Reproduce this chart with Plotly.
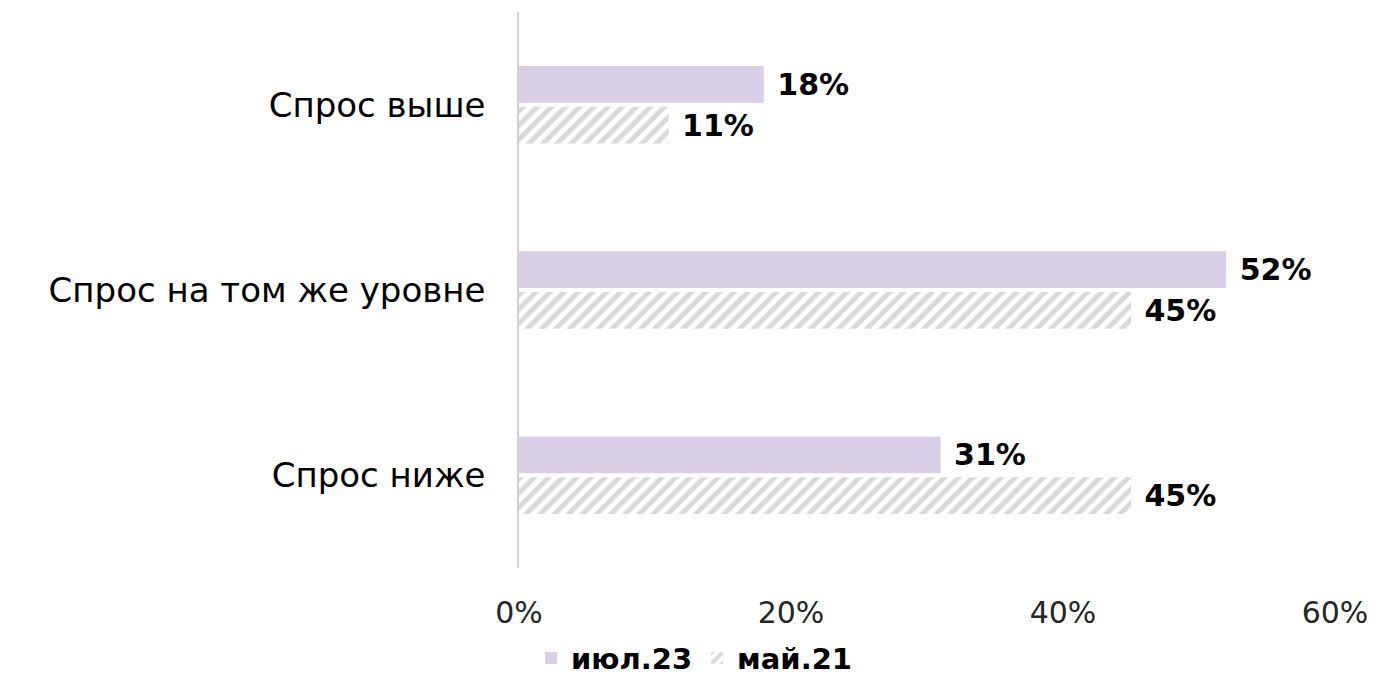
import plotly.graph_objects as go

categories = ["Спрос выше", "Спрос на том же уровне", "Спрос ниже"]
series_names = ["июл.23", "май.21"]
jul23 = [18, 52, 31]
may21 = [11, 45, 45]
tick_vals = [0, 20, 40, 60]
tick_text = ["0%", "20%", "40%", "60%"]

FONT = "DejaVu Sans"
PAD = "\u00a0"

fig = go.Figure()
fig.add_trace(go.Bar(
    y=categories, x=jul23, orientation="h", name=series_names[0],
    marker=dict(color="#d9cfe6", line=dict(width=0)),
    text=[f"{PAD}{v}%" for v in jul23], textposition="outside",
    textfont=dict(family=FONT, size=30, color="#000000", weight="bold"),
    cliponaxis=False,
))
fig.add_trace(go.Bar(
    y=categories, x=may21, orientation="h", name=series_names[1],
    marker=dict(color="white", line=dict(width=0),
                pattern=dict(shape="/", fgcolor="#d9d9d9", bgcolor="white",
                             size=10, solidity=0.5, fillmode="replace")),
    text=[f"{PAD}{v}%" for v in may21], textposition="outside",
    textfont=dict(family=FONT, size=30, color="#000000", weight="bold"),
    cliponaxis=False,
))

fig.update_layout(
    width=1381, height=682,
    margin=dict(l=519, r=46, t=12, b=114, autoexpand=False),
    barmode="group", bargap=0.56, bargroupgap=0.1,
    plot_bgcolor="white", paper_bgcolor="white",
    font=dict(family=FONT, size=30, color="#000000"),
    legend=dict(orientation="h", x=0.215, xanchor="center", y=-0.162, yanchor="middle",
                font=dict(family=FONT, size=29, color="#000000", weight="bold"),
                itemwidth=30, traceorder="normal"),
    xaxis=dict(range=[0, 60], tickvals=tick_vals, ticktext=tick_text,
               showgrid=False, zeroline=False, showline=False, automargin=False,
               ticklabelstandoff=24, tickfont=dict(family=FONT, size=30, color="#262626")),
    yaxis=dict(autorange="reversed", showgrid=False, showline=True, automargin=False,
               linecolor="#d0d0d0", linewidth=1.5, ticks="",
               ticklabelstandoff=25, tickfont=dict(family=FONT, size=34, color="#000000")),
)

fig.write_html("out.html", config={"displayModeBar": False},
               post_script="document.body.style.margin='0';document.body.style.padding='0';")
